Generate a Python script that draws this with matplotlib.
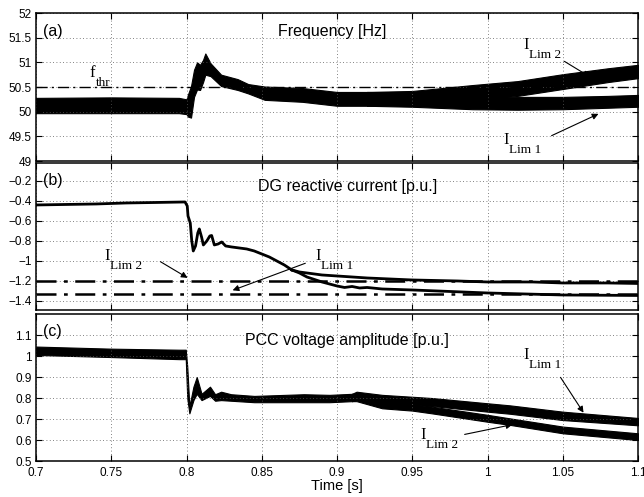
import numpy as np
import matplotlib
matplotlib.use('Agg')
import matplotlib.pyplot as plt
from matplotlib.ticker import FuncFormatter

# ---- (a) frequency band (lower / upper envelope of the ripple) ----
t_a = [0.7, 0.75, 0.795, 0.8, 0.801, 0.803, 0.805, 0.807, 0.809, 0.811, 0.8125,
       0.816, 0.823, 0.834, 0.841, 0.852, 0.877, 0.9, 0.92]
f_lo = [49.97, 49.97, 49.97, 49.95, 49.90, 49.88, 50.30, 50.45, 50.44, 50.60, 50.75,
        50.72, 50.52, 50.44, 50.37, 50.24, 50.20, 50.12, 50.12]
f_hi = [50.28, 50.29, 50.28, 50.25, 50.35, 50.52, 50.85, 51.00, 50.95, 51.05, 51.18,
        50.98, 50.75, 50.66, 50.56, 50.51, 50.48, 50.40, 50.40]
t_a2 = [0.92, 0.95, 0.99, 1.02, 1.05, 1.08, 1.1]
f1_lo = [50.12, 50.10, 50.05, 50.04, 50.05, 50.08, 50.10]
f1_hi = [50.40, 50.38, 50.32, 50.30, 50.30, 50.32, 50.34]
f2_lo = [50.12, 50.14, 50.24, 50.32, 50.46, 50.60, 50.68]
f2_hi = [50.40, 50.42, 50.54, 50.62, 50.76, 50.88, 50.95]
f_thr = 50.5

# ---- (b) DG reactive current ----
t_b = [0.7, 0.72, 0.74, 0.76, 0.78, 0.799, 0.8005, 0.801, 0.8025, 0.8035, 0.8045,
       0.806, 0.8075, 0.8085, 0.81, 0.8112, 0.8135, 0.8155, 0.8167, 0.8185, 0.821,
       0.8234, 0.826, 0.83, 0.835, 0.84, 0.845, 0.85, 0.855, 0.86, 0.865, 0.87]
iq = [-0.44, -0.435, -0.43, -0.42, -0.415, -0.41, -0.45, -0.55, -0.62, -0.80, -0.90,
      -0.85, -0.72, -0.68, -0.76, -0.84, -0.80, -0.75, -0.745, -0.84, -0.83,
      -0.81, -0.85, -0.86, -0.87, -0.88, -0.90, -0.93, -0.96, -1.0, -1.04, -1.09]
t_b2 = [0.87, 0.875, 0.89, 0.92, 0.95, 0.98, 1.0, 1.03, 1.05, 1.08, 1.1]
iq2 = [-1.09, -1.11, -1.14, -1.17, -1.19, -1.20, -1.21, -1.21, -1.22, -1.22, -1.225]
t_b1 = [0.87, 0.875, 0.88, 0.89, 0.9, 0.905, 0.91, 0.915, 0.92, 0.93, 0.95, 1.0, 1.05, 1.1]
iq1 = [-1.09, -1.12, -1.16, -1.21, -1.25, -1.265, -1.255, -1.27, -1.265, -1.28,
       -1.29, -1.32, -1.34, -1.345]
i_lim2 = -1.2
i_lim1 = -1.335

# ---- (c) PCC voltage band ----
t_c = [0.7, 0.75, 0.795, 0.7995, 0.8005, 0.8019, 0.8046, 0.8068, 0.81, 0.8156, 0.819,
       0.823, 0.8296, 0.845, 0.878, 0.895, 0.91]
v_lo = [1.005, 0.995, 0.985, 0.985, 0.80, 0.727, 0.79, 0.82, 0.79, 0.81, 0.787,
        0.79, 0.787, 0.78, 0.78, 0.78, 0.785]
v_hi = [1.045, 1.035, 1.03, 1.03, 0.95, 0.76, 0.854, 0.90, 0.82, 0.854, 0.818,
        0.83, 0.818, 0.81, 0.818, 0.815, 0.82]
t_c2 = [0.91, 0.913, 0.93, 0.95, 0.963, 1.0, 1.015, 1.05, 1.1]
v1_lo = [0.785, 0.79, 0.78, 0.767, 0.762, 0.735, 0.725, 0.695, 0.67]
v1_hi = [0.82, 0.83, 0.815, 0.806, 0.80, 0.775, 0.765, 0.735, 0.705]
v2_lo = [0.785, 0.785, 0.751, 0.74, 0.727, 0.687, 0.672, 0.632, 0.60]
v2_hi = [0.82, 0.82, 0.783, 0.77, 0.759, 0.72, 0.703, 0.664, 0.632]

x_ticks = [0.7, 0.75, 0.8, 0.85, 0.9, 0.95, 1.0, 1.05, 1.1]

sans = 'Liberation Sans'
serif = 'Liberation Serif'
plt.rcParams['font.family'] = sans

fig = plt.figure(figsize=(6.44, 4.97), dpi=100)
ax_a = fig.add_axes([0.0559, 0.676, 0.9348, 0.2978])
ax_b = fig.add_axes([0.0559, 0.3763, 0.9348, 0.2948])
ax_c = fig.add_axes([0.0559, 0.0724, 0.9348, 0.2958])

fmt = FuncFormatter(lambda v, p: ('%g' % round(v, 4)).replace('-', '\u2212'))
dashdot = (0, (8, 3, 1.5, 3))


def band(ax, t, lo, hi):
    ax.fill_between(t, lo, hi, color='k', lw=0.8, edgecolor='k')


def ilim(ax, x, y, sub, tail, head):
    ax.text(x, y, 'I', family=serif, fontsize=12, ha='left', va='center')
    ax.annotate(sub, (x, y), xytext=(4.5, -7), textcoords='offset points',
                family=serif, fontsize=9.5, ha='left', va='center')
    ax.annotate('', xy=head, xytext=tail,
                arrowprops=dict(arrowstyle='-|>', lw=0.8, color='k', mutation_scale=9))


for ax in (ax_a, ax_b, ax_c):
    ax.set_xlim(0.7, 1.1)
    ax.set_xticks(x_ticks)
    ax.grid(True, color='0.35', linestyle=(0, (1, 3)), lw=0.6)
    ax.tick_params(direction='in', top=True, right=True, length=4, labelsize=8.5)
    ax.tick_params(axis='y', pad=3)
    ax.tick_params(axis='x', pad=4)
    ax.yaxis.set_major_formatter(fmt)
    ax.xaxis.set_major_formatter(fmt)
    for s in ax.spines.values():
        s.set_linewidth(1.1)

# (a)
band(ax_a, t_a, f_lo, f_hi)
band(ax_a, t_a2, f1_lo, f1_hi)
band(ax_a, t_a2, f2_lo, f2_hi)
ax_a.axhline(f_thr, color='k', lw=1.0, linestyle=dashdot)
ax_a.set_ylim(49, 52)
ax_a.set_yticks(np.arange(49, 52.01, 0.5))
ax_a.tick_params(labelbottom=False)
ax_a.text(0.7045, 51.62, '(a)', fontsize=11.5, va='center')
ax_a.text(0.897, 51.62, 'Frequency [Hz]', fontsize=11.5, ha='center', va='center')
ax_a.text(0.7355, 50.78, 'f', family=serif, fontsize=12, va='center')
ax_a.annotate('thr', (0.7355, 50.78), xytext=(5, -7), textcoords='offset points',
              family=serif, fontsize=9.5, va='center')
ilim(ax_a, 1.0236, 51.35, 'Lim 2', (1.0495, 51.05), (1.0694, 50.68))
ilim(ax_a, 1.0103, 49.43, 'Lim 1', (1.0409, 49.49), (1.0754, 49.98))

# (b)
ax_b.plot(t_b, iq, color='k', lw=2.0)
ax_b.plot(t_b2, iq2, color='k', lw=2.0)
ax_b.plot(t_b1, iq1, color='k', lw=2.0)
ax_b.axhline(i_lim2, color='k', lw=1.8, linestyle=dashdot)
ax_b.axhline(i_lim1, color='k', lw=1.8, linestyle=dashdot)
ax_b.set_ylim(-1.49, -0.025)
ax_b.set_yticks(np.arange(-1.4, -0.19, 0.2))
ax_b.tick_params(labelbottom=False)
ax_b.text(0.7045, -0.2, '(b)', fontsize=11.5, va='center')
ax_b.text(0.9073, -0.26, 'DG reactive current [p.u.]', fontsize=11.5, ha='center', va='center')
ilim(ax_b, 0.7452, -0.953, 'Lim 2', (0.7811, -0.993), (0.8023, -1.183))
ilim(ax_b, 0.8854, -0.953, 'Lim 1', (0.8807, -1.013), (0.8289, -1.303))

# (c)
band(ax_c, t_c, v_lo, v_hi)
band(ax_c, t_c2, v1_lo, v1_hi)
band(ax_c, t_c2, v2_lo, v2_hi)
ax_c.set_ylim(0.5, 1.2)
ax_c.set_yticks(np.arange(0.5, 1.11, 0.1))
ax_c.text(0.7045, 1.116, '(c)', fontsize=11.5, va='center')
ax_c.text(0.9063, 1.076, 'PCC voltage amplitude [p.u.]', fontsize=11.5, ha='center', va='center')
ilim(ax_c, 1.0236, 1.005, 'Lim 1', (1.0475, 0.9095), (1.0648, 0.719))
ilim(ax_c, 0.9551, 0.624, 'Lim 2', (0.983, 0.624), (1.0183, 0.676))
ax_c.set_xlabel('Time [s]', fontsize=10.5, labelpad=0)

fig.savefig('out.png', dpi=100)
